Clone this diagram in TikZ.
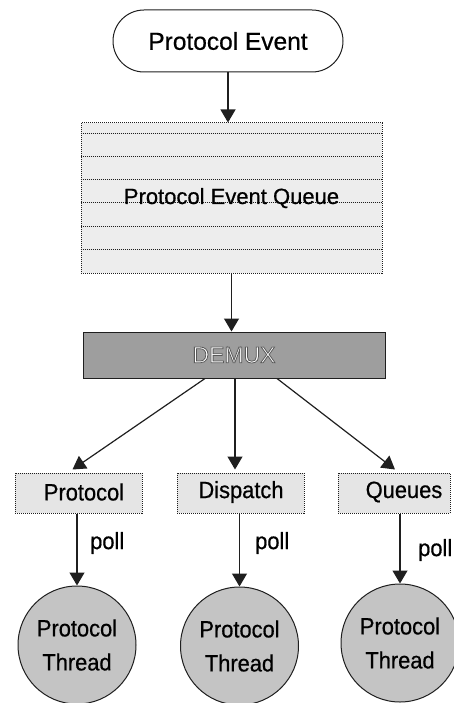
\documentclass[tikz,border=0pt]{standalone}
\usepackage{fontspec}
\setmainfont{Liberation Sans}[RawFeature={embolden=0.6}]
\newfontfamily\tallsans{Liberation Sans}[FakeStretch=0.93, RawFeature={embolden=0.6}]
\newfontfamily\plainsans{Liberation Sans}
\usetikzlibrary{arrows.meta,calc}

\definecolor{inkline}{gray}{0.12}
\definecolor{queuefill}{gray}{0.93}
\definecolor{boxfill}{gray}{0.90}
\definecolor{threadfill}{gray}{0.77}
\definecolor{demuxfill}{gray}{0.62}

% white lettering stroked with a thin grey rim (PDF text render mode 2)
\newcommand\rimtext[1]{{\color{white}%
  \special{pdf:literal direct 0.35 G 0.8 w 2 Tr}#1%
  \special{pdf:literal direct 0 Tr}}}

\tikzset{
  arr/.style={draw=inkline, line width=1.2pt,
    -{Triangle[length=13pt,width=15pt]}},
  dotline/.style={draw=inkline, line width=1pt, densely dotted},
  eventbox/.style={draw=inkline, line width=1pt, rounded corners=31pt,
    minimum width=230pt, minimum height=62pt,
    font=\fontsize{24.5}{28}\selectfont},
  queuebox/.style={dotline, fill=queuefill, minimum width=301pt,
    minimum height=150pt, inner sep=0pt},
  demuxbox/.style={draw=inkline, line width=1pt, fill=demuxfill,
    minimum width=302pt, minimum height=46pt,
    font=\plainsans\fontsize{23}{26}\selectfont},
  tagbox/.style={dotline, fill=boxfill, minimum height=40pt, inner sep=0pt},
  tagtext/.style={inner sep=0pt, font=\tallsans\fontsize{23.5}{25}\selectfont},
  thread/.style={circle, draw=inkline, line width=1pt, fill=threadfill,
    minimum size=118pt, inner sep=0pt, align=center,
    font=\tallsans\fontsize{23.5}{34}\selectfont},
  polltext/.style={anchor=west, inner sep=0pt,
    font=\tallsans\fontsize{23.5}{25}\selectfont},
}

\begin{document}
\begin{tikzpicture}[x=1pt, y=-1pt]
\useasboundingbox (0,0) rectangle (453,703);

% incoming event
\node[eventbox] (event) at (228,41) {Protocol Event};

% event queue with its slots
\node[queuebox] (queue) at (231.5,198) {};
\foreach \dy in {11,34,57,80,104,127}
  \draw[dotline] ($(queue.north west)+(0,\dy)$) -- ($(queue.north east)+(0,\dy)$);
\node[inner sep=0pt, anchor=base, font=\fontsize{22}{25}\selectfont]
  (queuelabel) at (231.5,204) {Protocol Event Queue};

% demultiplexer
\node[demuxbox] (demux) at (234,355) {\rimtext{DEMUX}};

% per-protocol dispatch queues
\node[tagbox, minimum width=127pt] (protobox) at (78.5,493) {};
\node[tagtext] (prototxt) at (84,492) {Protocol};
\node[tagbox, minimum width=127pt] (dispbox) at (240.5,493) {};
\node[tagtext] (disptxt) at (241,492) {Dispatch};
\node[tagbox, minimum width=112pt] (qbox) at (394,493) {};
\node[tagtext] (qtxt) at (404,492) {Queues};

% protocol threads
\node[thread] (thr1) at (77,645) {Protocol\\Thread};
\node[thread] (thr2) at (239.5,646) {Protocol\\Thread};
\node[thread] (thr3) at (400,643) {Protocol\\Thread};

% flow
\draw[arr] (event.south) -- (event.south |- queue.north);
\draw[arr] (queue.south) -- (queue.south |- demux.north);
\draw[arr] ($(demux.south)+(-29,0)$) -- ($(protobox.north)+(-6,-3)$);
\draw[arr] ($(demux.south)+(1,0)$) -- ($(dispbox.north)+(-5.5,-3)$);
\draw[arr] ($(demux.south)+(43,0)$) -- ($(qbox.north)+(1,-3)$);

% polling
\draw[arr] (protobox.south -| thr1) -- (thr1.north);
\draw[arr] (dispbox.south -| thr2) -- (thr2.north);
\draw[arr] (qbox.south -| thr3) -- (thr3.north);
\node[polltext] (poll1) at (90,543) {poll};
\node[polltext] (poll2) at (255,543) {poll};
\node[polltext] (poll3) at (418,550) {poll};
\end{tikzpicture}
\end{document}
